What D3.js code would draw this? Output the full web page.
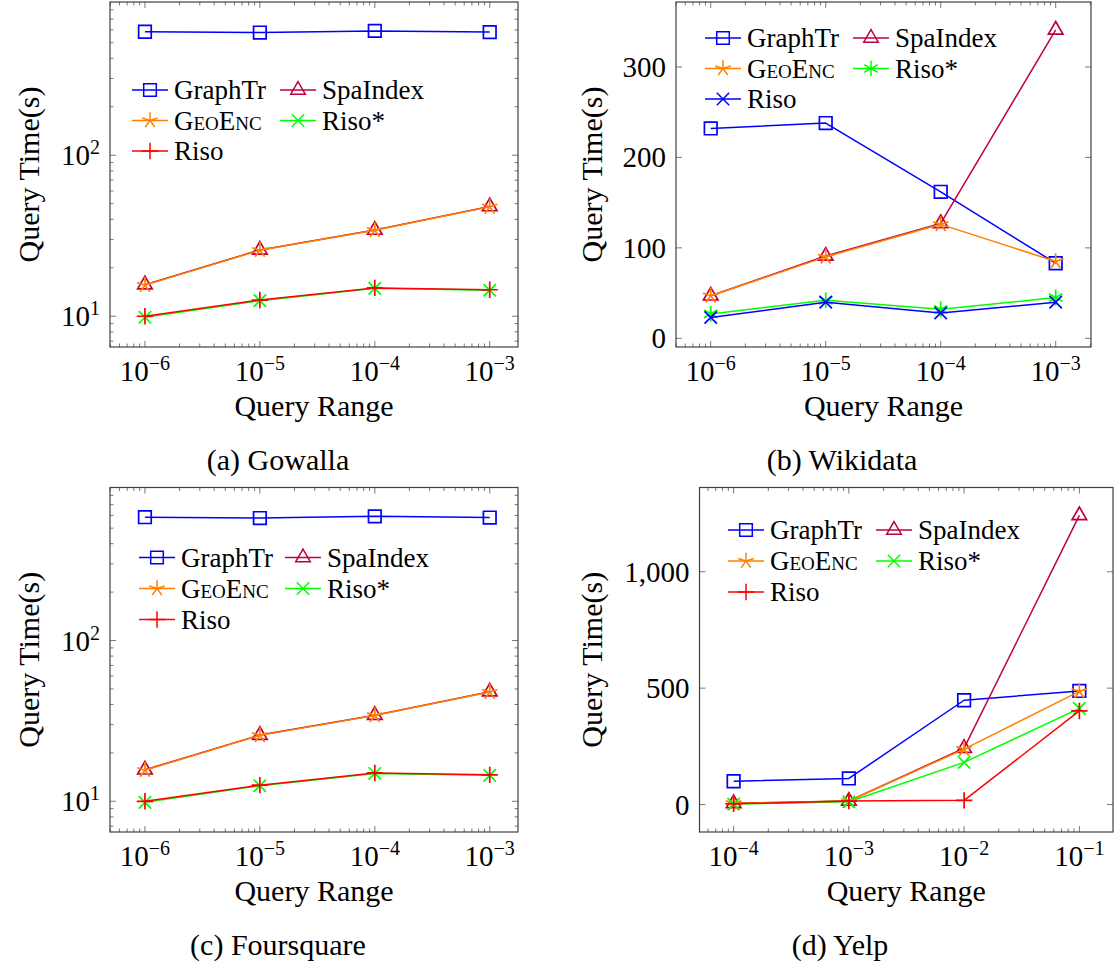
<!DOCTYPE html>
<html>
<head>
<meta charset="utf-8">
<script src="https://cdn.jsdelivr.net/npm/d3@7"></script>
<style>
  body { margin: 0; background: #fff; }
</style>
</head>
<body>
<svg id="fig" width="1114" height="972"></svg>
<script>
// ---- data -------------------------------------------------------------
const rangesSmall = [1e-6, 1e-5, 1e-4, 1e-3];
const rangesYelp  = [1e-4, 1e-3, 1e-2, 1e-1];

const seriesNames = ["GraphTr", "SpaIndex", "GeoEnc", "Riso*", "Riso"];

// Gowalla (seconds)
const gowallaGraphTr  = [585, 578, 592, 582];
const gowallaSpaIndex = [15.7, 25.8, 34.3, 48.0];
const gowallaGeoEnc   = [15.6, 25.7, 34.2, 47.8];
const gowallaRisoStar = [9.85, 12.5, 14.9, 14.5];
const gowallaRiso     = [10.0, 12.6, 15.0, 14.6];

// Wikidata (seconds)
const wikidataGraphTr  = [232, 238, 162, 83];
const wikidataSpaIndex = [47, 91, 127, 341];
const wikidataGeoEnc   = [47, 90, 126, 85];
const wikidataRisoStar = [27, 42, 32, 45];
const wikidataRiso     = [23, 40, 28, 40];

// Foursquare (seconds)
const foursquareGraphTr  = [585, 578, 592, 582];
const foursquareSpaIndex = [15.7, 25.8, 34.3, 48.0];
const foursquareGeoEnc   = [15.6, 25.7, 34.2, 47.8];
const foursquareRisoStar = [9.85, 12.5, 14.9, 14.5];
const foursquareRiso     = [10.0, 12.6, 15.0, 14.6];

// Yelp (seconds)
const yelpGraphTr  = [100, 112, 448, 488];
const yelpSpaIndex = [5, 15, 242, 1242];
const yelpGeoEnc   = [5, 15, 238, 486];
const yelpRisoStar = [2, 12, 181, 413];
const yelpRiso     = [3, 15, 18, 402];

// tick values
const logYTicks      = [10, 100];
const wikidataYTicks = [0, 100, 200, 300];
const yelpYTicks     = [0, 500, 1000];

const captions = ["(a) Gowalla", "(b) Wikidata", "(c) Foursquare", "(d) Yelp"];

const FONT = '"Liberation Serif", "DejaVu Serif", serif';

// ---- styles -----------------------------------------------------------
const BLUE = "#0000ff", PURPLE = "#bf0040", ORANGE = "#ff8000", GREEN = "#00ff00", RED = "#ff0000";

const styleDefault = [
  { color: BLUE,   mark: "square" },
  { color: PURPLE, mark: "triangle" },
  { color: ORANGE, mark: "star" },
  { color: GREEN,  mark: "x" },
  { color: RED,    mark: "plus" }
];
const styleWikidata = [
  { color: BLUE,   mark: "square" },
  { color: PURPLE, mark: "triangle" },
  { color: ORANGE, mark: "star" },
  { color: GREEN,  mark: "asterisk" },
  { color: BLUE,   mark: "x" }
];

function markPath(kind) {
  const p = d3.path();
  if (kind === "square") {
    const s = 6.3; p.rect(-s, -s, 2 * s, 2 * s);
  } else if (kind === "triangle") {
    const r = 8.4;
    p.moveTo(0, -r);
    p.lineTo(r * Math.cos(Math.PI / 6), r / 2);
    p.lineTo(-r * Math.cos(Math.PI / 6), r / 2);
    p.closePath();
  } else if (kind === "star") {
    const r = 8.2;
    for (let k = 0; k < 5; k++) {
      const a = -Math.PI / 2 + k * 2 * Math.PI / 5;
      p.moveTo(0, 0); p.lineTo(r * Math.cos(a), r * Math.sin(a));
    }
  } else if (kind === "x") {
    const s = 6.2;
    p.moveTo(-s, -s); p.lineTo(s, s); p.moveTo(-s, s); p.lineTo(s, -s);
  } else if (kind === "plus") {
    const s = 8.2;
    p.moveTo(-s, 0); p.lineTo(s, 0); p.moveTo(0, -s); p.lineTo(0, s);
  } else if (kind === "asterisk") {
    const r = 7.8;
    for (const deg of [90, 30, -30]) {
      const a = deg * Math.PI / 180;
      p.moveTo(-r * Math.cos(a), -r * Math.sin(a)); p.lineTo(r * Math.cos(a), r * Math.sin(a));
    }
  }
  return p.toString();
}

// ---- panels -----------------------------------------------------------
const panels = [
  {
    box: { left: 110, right: 518, top: 2, bottom: 347 },
    xs: rangesSmall, xDomain: [Math.pow(10, -6.304), Math.pow(10, -2.754)],
    yLog: true, yDomain: [6.44, 895], yTicks: logYTicks,
    series: [gowallaGraphTr, gowallaSpaIndex, gowallaGeoEnc, gowallaRisoStar, gowallaRiso],
    styles: styleDefault,
    legend: { x: [132, 280], y: 90, dy: 30.5 },
    yLabelX: 28, caption: captions[0], captionX: 278, captionY: 470
  },
  {
    box: { left: 676, right: 1091, top: 2, bottom: 347 },
    xs: rangesSmall, xDomain: [Math.pow(10, -6.302), Math.pow(10, -2.693)],
    yLog: false, yDomain: [-9.6, 371.8], yTicks: wikidataYTicks,
    series: [wikidataGraphTr, wikidataSpaIndex, wikidataGeoEnc, wikidataRisoStar, wikidataRiso],
    styles: styleWikidata,
    legend: { x: [705, 853], y: 38, dy: 30.5 },
    yLabelX: 591, caption: captions[1], captionX: 842, captionY: 470
  },
  {
    box: { left: 110, right: 518, top: 487.5, bottom: 832 },
    xs: rangesSmall, xDomain: [Math.pow(10, -6.304), Math.pow(10, -2.754)],
    yLog: true, yDomain: [6.44, 895], yTicks: logYTicks,
    series: [foursquareGraphTr, foursquareSpaIndex, foursquareGeoEnc, foursquareRisoStar, foursquareRiso],
    styles: styleDefault,
    legend: { x: [139, 285], y: 557.5, dy: 31 },
    yLabelX: 28, caption: captions[2], captionX: 278, captionY: 955
  },
  {
    box: { left: 699.5, right: 1113, top: 487.5, bottom: 832 },
    xs: rangesYelp, xDomain: [Math.pow(10, -4.296), Math.pow(10, -0.708)],
    yLog: false, yDomain: [-118, 1362], yTicks: yelpYTicks,
    series: [yelpGraphTr, yelpSpaIndex, yelpGeoEnc, yelpRisoStar, yelpRiso],
    styles: styleDefault,
    legend: { x: [728, 876], y: 530, dy: 31 },
    yLabelX: 591, caption: captions[3], captionX: 840, captionY: 955
  }
];

const svg = d3.select("#fig").attr("font-family", FONT);
const MAJOR = 6, MINOR = 3.5;
const AXIS_COLOR = "#404040", TICK_COLOR = "#6a6a6a";

// power-of-ten label: "10" with a raised exponent
function powerLabel(sel, exp, baseSize, supSize) {
  sel.append("tspan").attr("font-size", baseSize).text("10");
  sel.append("tspan").attr("font-size", supSize).attr("dy", -11)
    .text(exp < 0 ? "\u2212" + Math.abs(exp) : String(exp));
}

panels.forEach(pn => {
  const b = pn.box;
  const g = svg.append("g");
  const x = d3.scaleLog().domain(pn.xDomain).range([b.left, b.right]);
  const y = (pn.yLog ? d3.scaleLog() : d3.scaleLinear()).domain(pn.yDomain).range([b.bottom, b.top]);

  // x ticks: decades and 2..9 minors, on bottom and top, pointing inward
  const lo = Math.floor(Math.log10(pn.xDomain[0])), hi = Math.ceil(Math.log10(pn.xDomain[1]));
  const xMajor = [], xMinor = [];
  for (let d = lo; d <= hi; d++) {
    const base = Math.pow(10, d);
    if (base >= pn.xDomain[0] && base <= pn.xDomain[1]) xMajor.push(base);
    for (let k = 2; k <= 9; k++) {
      const v = k * base;
      if (v > pn.xDomain[0] && v < pn.xDomain[1]) xMinor.push(v);
    }
  }
  const ticks = g.append("g").attr("stroke", TICK_COLOR).attr("stroke-width", 0.9);
  [[xMajor, MAJOR], [xMinor, MINOR]].forEach(([vals, len]) => {
    vals.forEach(v => {
      const px = x(v);
      ticks.append("line").attr("x1", px).attr("x2", px).attr("y1", b.bottom).attr("y2", b.bottom - len);
      ticks.append("line").attr("x1", px).attr("x2", px).attr("y1", b.top).attr("y2", b.top + len);
    });
  });

  // y ticks on left and right
  const yMajor = pn.yTicks.slice();
  const yMinor = [];
  if (pn.yLog) {
    const l2 = Math.floor(Math.log10(pn.yDomain[0])), h2 = Math.ceil(Math.log10(pn.yDomain[1]));
    for (let d = l2; d <= h2; d++) {
      for (let k = 2; k <= 9; k++) {
        const v = k * Math.pow(10, d);
        if (v > pn.yDomain[0] && v < pn.yDomain[1]) yMinor.push(v);
      }
    }
  }
  [[yMajor, MAJOR], [yMinor, MINOR]].forEach(([vals, len]) => {
    vals.forEach(v => {
      const py = y(v);
      ticks.append("line").attr("x1", b.left).attr("x2", b.left + len).attr("y1", py).attr("y2", py);
      ticks.append("line").attr("x1", b.right).attr("x2", b.right - len).attr("y1", py).attr("y2", py);
    });
  });

  // frame
  g.append("rect").attr("x", b.left).attr("y", b.top)
    .attr("width", b.right - b.left).attr("height", b.bottom - b.top)
    .attr("fill", "none").attr("stroke", AXIS_COLOR).attr("stroke-width", 1.2);

  // x tick labels
  xMajor.forEach(v => {
    const t = g.append("text").attr("x", x(v)).attr("y", b.bottom + 34).attr("text-anchor", "middle");
    powerLabel(t, Math.round(Math.log10(v)), 29, 20);
  });

  // y tick labels
  const fmt = d3.format(",");
  yMajor.forEach(v => {
    const t = g.append("text").attr("x", b.left - 10).attr("y", y(v) + 10).attr("text-anchor", "end");
    if (pn.yLog) powerLabel(t, Math.round(Math.log10(v)), 29, 20);
    else t.attr("font-size", 29).text(fmt(v));
  });

  // axis titles
  g.append("text").attr("x", (b.left + b.right) / 2).attr("y", b.bottom + 69)
    .attr("text-anchor", "middle").attr("font-size", 30).text("Query Range");
  g.append("text")
    .attr("transform", `translate(${pn.yLabelX},${(b.top + b.bottom) / 2}) rotate(-90)`)
    .attr("text-anchor", "middle").attr("dy", "0.35em").attr("font-size", 30).text("Query Time(s)");

  // series lines and marks
  const line = d3.line().x(d => x(d[0])).y(d => y(d[1]));
  pn.series.forEach((vals, i) => {
    const st = pn.styles[i];
    const pts = pn.xs.map((xv, j) => [xv, vals[j]]);
    const sg = g.append("g");
    sg.append("path").attr("d", line(pts)).attr("fill", "none")
      .attr("stroke", st.color).attr("stroke-width", 1.5).attr("stroke-linejoin", "round");
    sg.selectAll("path.mk").data(pts).enter().append("path").attr("class", "mk")
      .attr("d", markPath(st.mark))
      .attr("transform", d => `translate(${x(d[0])},${y(d[1])})`)
      .attr("fill", "none").attr("stroke", st.color).attr("stroke-width", 1.7);
  });

  // legend: two columns filled row by row
  const lg = g.append("g");
  seriesNames.forEach((name, i) => {
    const st = pn.styles[i];
    const col = i % 2, row = Math.floor(i / 2);
    const lx = pn.legend.x[col], ly = pn.legend.y + row * pn.legend.dy;
    lg.append("line").attr("x1", lx).attr("x2", lx + 36).attr("y1", ly).attr("y2", ly)
      .attr("stroke", st.color).attr("stroke-width", 1.4);
    lg.append("path").attr("d", markPath(st.mark))
      .attr("transform", `translate(${lx + 18},${ly})`)
      .attr("fill", "none").attr("stroke", st.color).attr("stroke-width", 1.5);
    const t = lg.append("text").attr("x", lx + 42).attr("y", ly).attr("dy", "0.34em").attr("font-size", 27);
    if (name === "GeoEnc") t.style("font-variant", "small-caps");
    t.text(name);
  });

  // caption
  g.append("text").attr("x", pn.captionX).attr("y", pn.captionY)
    .attr("text-anchor", "middle").attr("font-size", 30).text(pn.caption);
});
</script>
</body>
</html>
